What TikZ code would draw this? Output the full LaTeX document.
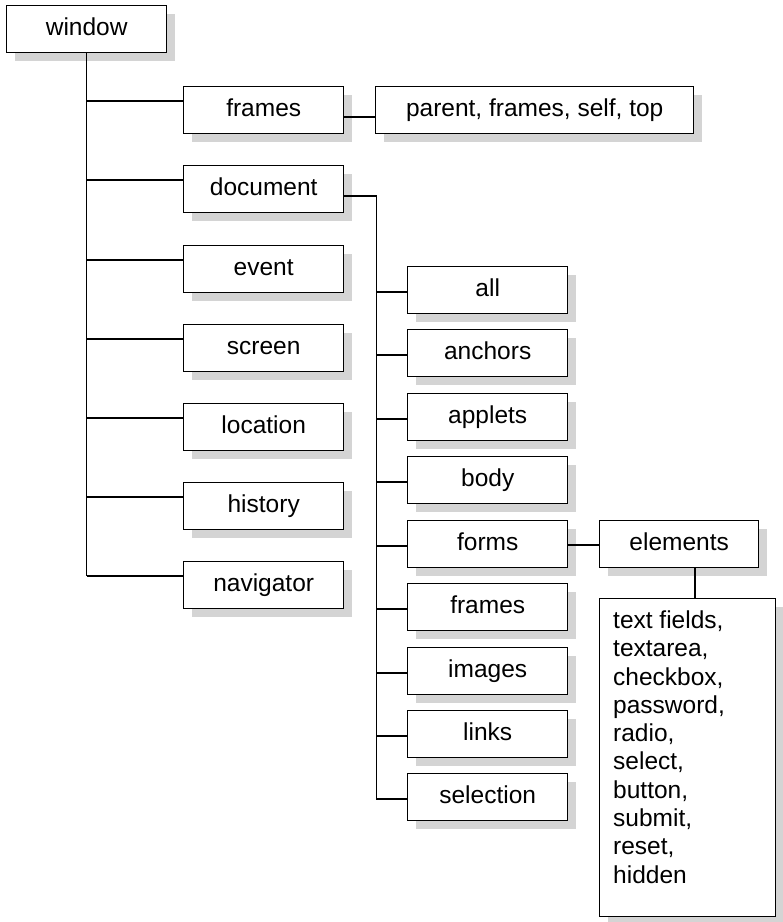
\documentclass[tikz,border=0pt]{standalone}
\usepackage{fontspec}
\setmainfont{Liberation Sans}
\usetikzlibrary{shadows}
\begin{document}
\begin{tikzpicture}[x=1pt,y=-1pt,
  box/.style={draw=black, line width=1.4pt, fill=white, anchor=north west,
    inner sep=0pt, minimum width=160pt, minimum height=47pt,
    text height=17.5pt, text depth=5pt,
    font=\fontsize{24.5}{28.3}\selectfont,
    drop shadow={shadow xshift=8pt, shadow yshift=-8pt, opacity=1, fill=black!17}},
  wire/.style={draw=black, line width=1.3pt}]
\useasboundingbox (0,0) rectangle (783,922);

% root and its direct children
\node[box] (window) at (6,5) {window};
\node[box] (frames) at (183,86) {frames};
\node[box, minimum width=318pt] (parent) at (375,86) {parent, frames, self, top};
\node[box] (document) at (183,165) {document};
\node[box] (event) at (183,245) {event};
\node[box] (screen) at (183,324) {screen};
\node[box] (location) at (183,403) {location};
\node[box] (history) at (183,482) {history};
\node[box] (navigator) at (183,561) {navigator};

% children of document
\node[box] (all) at (407,266) {all};
\node[box] (anchors) at (407,329) {anchors};
\node[box] (applets) at (407,393) {applets};
\node[box] (body) at (407,456) {body};
\node[box] (forms) at (407,520) {forms};
\node[box] (dframes) at (407,583) {frames};
\node[box] (images) at (407,647) {images};
\node[box] (links) at (407,710) {links};
\node[box] (selection) at (407,773) {selection};

% forms -> elements -> element list
\node[box, minimum width=159pt] (elements) at (599,520) {elements};
\node[box, minimum width=176pt, minimum height=318pt, text height=0pt, text depth=0pt] (list) at (599,598) {};
\node[anchor=north west, inner sep=0pt, align=left,
  font=\fontsize{24.5}{28.3}\selectfont] (listtext) at (613,610.5)
  {text fields,\\textarea,\\checkbox,\\password,\\radio,\\select,\\button,\\submit,\\reset,\\hidden};

% trunk below window
\foreach \c in {frames,document,event,screen,location,history,navigator}
  \coordinate (\c in) at ([yshift=-15pt]\c.north west);
\draw[wire] (window.south) -- (window.south |- navigatorin);
\foreach \c in {frames,document,event,screen,location,history,navigator}
  \draw[wire] (window.south |- \c in) -- (\c in);

% frames -> parent
\coordinate (framesout) at ([yshift=-31pt]frames.north east);
\draw[wire] (framesout) -- (framesout -| parent.west);

% document bus
\coordinate (docout) at ([yshift=-31pt]document.north east);
\coordinate (docbus) at ([xshift=32pt]docout);
\foreach \c in {all,anchors,applets,body,forms,dframes,images,links,selection}
  \coordinate (\c in) at ([yshift=-26pt]\c.north west);
\draw[wire] (docout) -- (docbus) -- (docbus |- selectionin);
\foreach \c in {all,anchors,applets,body,forms,dframes,images,links,selection}
  \draw[wire] (docbus |- \c in) -- (\c in);

% forms -> elements -> list
\coordinate (formsout) at ([yshift=-25pt]forms.north east);
\draw[wire] (formsout) -- (formsout -| elements.west);
\coordinate (elemout) at ([xshift=96pt]elements.south west);
\draw[wire] (elemout) -- (elemout |- list.north);
\end{tikzpicture}
\end{document}
